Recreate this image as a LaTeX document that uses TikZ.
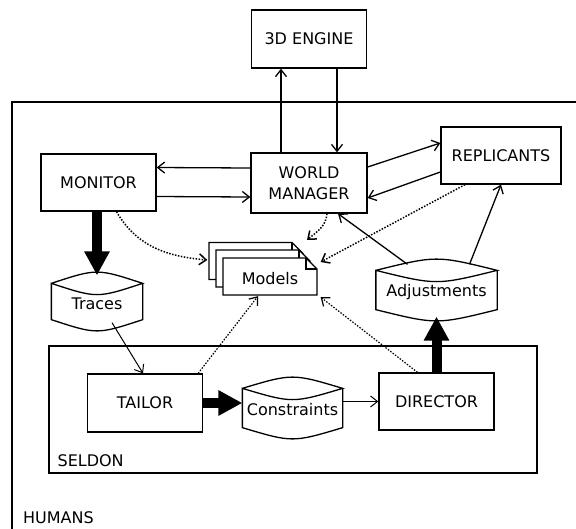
\documentclass[tikz,border=0pt]{standalone}
\usepackage{fontspec}
\setmainfont{DejaVu Sans}
\usetikzlibrary{arrows.meta}

% outline of a store (lens top, curved bottom) round a node
\newcommand{\drum}[1]{%
  \draw (#1.north west) .. controls ([yshift=15pt]#1.north) .. (#1.north east)
    .. controls ([yshift=-15pt]#1.north) .. (#1.north west) -- (#1.south west)
    .. controls ([yshift=-15pt]#1.south) .. (#1.south east) -- (#1.north east);}

\tikzset{
  sheet/.pic={
    \draw[fill=white] (-47,18.5) -- (-47,-18.5) -- (36,-18.5) -- (47,-7.5) -- (47,18.5) -- cycle;
    \draw (36,-18.5) |- (47,-7.5);
  }
}

\begin{document}
\begin{tikzpicture}[x=1pt,y=-1pt,line width=1.3pt,
    >={Straight Barb[length=7pt,width=11pt]},
    every node/.style={font=\fontsize{16}{19}\selectfont},
    box/.style={draw,minimum width=115pt,minimum height=58pt,inner sep=0pt},
    store/.style={minimum height=38pt,inner sep=0pt,text height=16pt},
    fat/.style={line width=10pt,-{Triangle[length=24pt,width=24pt]}},
    dots/.style={->,line width=1.5pt,dash pattern=on 1.5pt off 1.5pt},
    thin/.style={->,line width=1pt}]

    \useasboundingbox (0,0) rectangle (576,528);

    % frames
    \draw (12,545) |- (590,102);
    \node[anchor=west,inner sep=0pt] (humans) at (22.5,518) {HUMANS};
    \draw (49,346) rectangle (537,473);
    \node[anchor=west,inner sep=0pt] (seldon) at (57,461) {SELDON};

    % boxes
    \node[box] (engine) at (309,39) {3D ENGINE};
    \node[box,minimum width=116pt,minimum height=60pt,align=center,
      font=\fontsize{16}{21}\selectfont] (wm) at (309,183) {WORLD\\MANAGER};
    \node[box,minimum height=57pt] (monitor) at (98.5,182.5) {MONITOR};
    \node[box,minimum width=120pt,minimum height=57pt] (replicants) at (501,155.5) {REPLICANTS};
    \node[box] (tailor) at (145,403) {TAILOR};
    \node[box,minimum height=57pt] (director) at (436.5,401.5) {DIRECTOR};

    % stores
    \node[store,minimum width=90pt,minimum height=35pt] (traces) at (97,301.5) {Traces};
    \node[store,minimum width=120pt] (adjust) at (436.5,290) {Adjustments};
    \node[store,minimum width=99pt] (constraints) at (292.5,408) {Constraints};
    \drum{traces}
    \drum{adjust}
    \drum{constraints}

    % models
    \pic at (256,261) {sheet};
    \pic at (263,268.5) {sheet};
    \pic at (270,276.5) {sheet};
    \node[minimum width=94pt,minimum height=37pt,inner sep=0pt] (models) at (270,279) {Models};

    % connectors
    \draw[->] ([xshift=-28pt]wm.north) -- ([xshift=-28pt]engine.south);
    \draw[->] ([xshift=28pt]engine.south) -- ([xshift=28pt]wm.north);
    \draw[->] ([yshift=15pt]wm.west) -- ([yshift=15pt]monitor.east);
    \draw[->] ([yshift=-14pt]monitor.east) -- ([yshift=-14pt]wm.west);
    \draw[->] ([yshift=16pt]wm.east) -- ([yshift=12.5pt]replicants.west);
    \draw[->] ([yshift=-16.5pt]replicants.west) -- ([yshift=-15pt]wm.east);
    \draw[fat] (traces.north |- monitor.south) -- ([yshift=8pt]traces.north);
    \draw[thin] ([xshift=15pt,yshift=-3pt]traces.south) -- ([xshift=-2pt]tailor.north);
    \draw[fat] (tailor.east) -- (tailor.east -| constraints.west);
    \draw[thin] (constraints.east |- director.west) -- (director.west);
    \draw[fat] (director.north) -- ([yshift=-7pt]adjust.south);
    \draw[->] ([xshift=-29pt,yshift=6pt]adjust.north) -- ([xshift=29pt]wm.south);
    \draw[->] ([xshift=33pt,yshift=6pt]adjust.north) -- (replicants.south);

    \draw[dots] ([xshift=18pt]monitor.south) to[out=-60,in=175] ([xshift=-15pt,yshift=19pt]models.west);
    \draw[dots] ([xshift=18pt]wm.south) to[out=-95,in=40] ([xshift=37pt,yshift=39pt]models.center);
    \draw[dots] ([xshift=-36pt]replicants.south) -- ([xshift=3pt,yshift=17pt]models.east);
    \draw[dots,line width=1.2pt] ([xshift=-5pt]tailor.north east) -- ([xshift=-12pt,yshift=2pt]models.south);
    \draw[dots,line width=1.2pt] ([xshift=-19pt]director.north) -- ([xshift=3pt,yshift=1pt]models.south east);

\end{tikzpicture}
\end{document}
